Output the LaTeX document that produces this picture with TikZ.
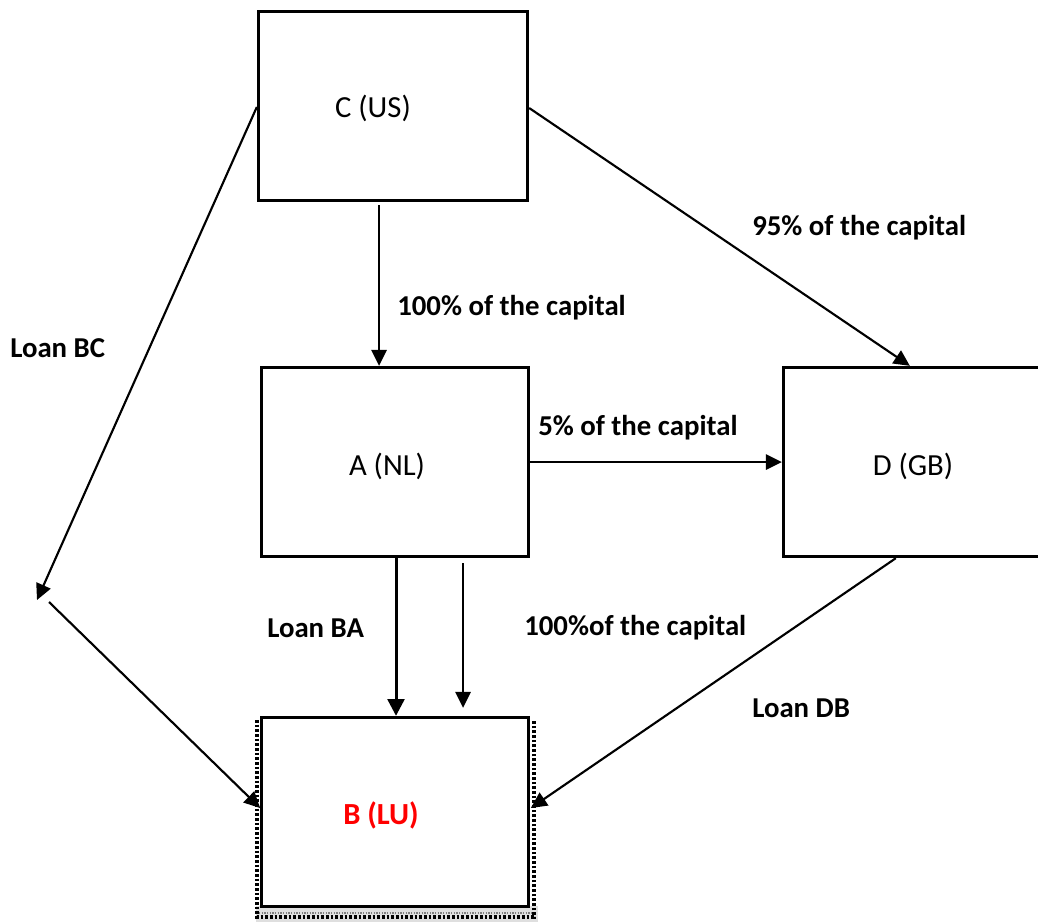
\documentclass[tikz,border=0pt]{standalone}
\usepackage{fontspec}
\setmainfont{Carlito}
\usetikzlibrary{arrows.meta,calc}
\begin{document}
\begin{tikzpicture}[x=0.75pt,y=-0.75pt,
  box/.style={draw,line width=2.25pt,fill=white,minimum width=200pt,minimum height=142pt,inner sep=0pt},
  boxtext/.style={inner sep=0pt,font=\fontsize{23pt}{27pt}\selectfont},
  lbl/.style={inner sep=0pt,anchor=west,font=\fontsize{21.6pt}{26pt}\selectfont\bfseries},
  arr/.style={line width=1.6pt,-{Triangle[length=12pt,width=11.5pt]}},
  tarr/.style={line width=2.25pt,-{Triangle[length=12.5pt,width=12.5pt]}}]
\useasboundingbox (0,0) rectangle (1038,921);
% boxes
\node[box,minimum width=202pt] (C) at (393,106) {};
\node[box] (A) at (395,462) {};
\node[box,minimum width=202pt] (D) at (918,462) {};
% decorative frame of B
\fill[gray!25] (256,906) rectangle (538,925);
\draw[line width=3pt,dash pattern=on 2pt off 1.5pt] (257,720) -- (257,917) -- (534,917) -- (534,720);
\draw[gray,line width=1pt,dash pattern=on 1pt off 1pt] (259,913) -- (532,913);
\node[box] (B) at (395,812) {};
% box texts
\node[boxtext] (tC) at (373,108) {C (US)};
\node[boxtext] (tA) at (387,466) {A (NL)};
\node[boxtext] (tD) at (913,466) {D (GB)};
\node[boxtext,font=\fontsize{23pt}{27pt}\selectfont\bfseries,text=red] (tB) at (381,815) {B (LU)};
% connectors
\coordinate (bc1) at (37,600);
\coordinate (bc2) at (49,602);
\draw[arr] ($(C.south)+(-14,3)$) -- ($(A.north)+(-16,0)$);
\draw[arr] ($(C.east)+(0,2)$) -- ($(D.north west)+(128,0)$);
\draw[arr] ($(C.west)+(0,1)$) -- (bc1);
\draw[arr] (bc2) -- ($(B.west)+(0,-4)$);
\draw[arr] (A.east) -- (D.west);
\draw[tarr] ($(A.south)+(1,0)$) -- ($(B.north)+(1,0)$);
\draw[arr] ($(A.south)+(68,5)$) -- ($(B.north)+(68,-8)$);
\draw[arr] ($(D.south west)+(114,0)$) -- ($(B.east)+(1,-4)$);
% labels
\node[lbl] (l1) at (397,308) {100\% of the capital};
\node[lbl] (l2) at (752,228) {95\% of the capital};
\node[lbl] (l3) at (10,348) {Loan BC};
\node[lbl] (l4) at (538,428) {5\% of the capital};
\node[lbl] (l5) at (267,628) {Loan BA};
\node[lbl] (l6) at (524,628) {100\%of the capital};
\node[lbl] (l7) at (752,708) {Loan DB};
\end{tikzpicture}
\end{document}
